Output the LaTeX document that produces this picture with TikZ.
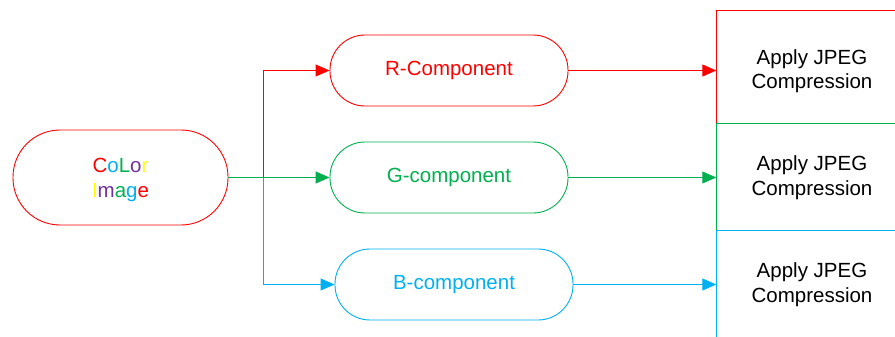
\documentclass[tikz,border=0pt]{standalone}
\usepackage{fontspec}
\setmainfont{Liberation Sans}
\usetikzlibrary{arrows.meta}
\definecolor{cR}{HTML}{FF0000}
\definecolor{cG}{HTML}{00B050}
\definecolor{cB}{HTML}{00B0F0}
\definecolor{cP}{HTML}{7030A0}
\definecolor{cY}{HTML}{FFFF00}
\tikzset{
  pill/.style={draw, line width=0.9pt, minimum width=238pt, minimum height=71pt, rounded corners=35pt, font=\fontsize{20.5}{24}\selectfont, inner sep=0pt},
  jpeg/.style={minimum width=191pt, inner sep=0pt, font=\fontsize{20.5}{24.5}\selectfont, align=center, text=black},
  boxedge/.style={line width=1.2pt},
  conn/.style={line width=0.9pt, -{Triangle[length=14pt,width=12pt]}},
}
\begin{document}
\begin{tikzpicture}[x=1pt,y=-1pt]
\useasboundingbox (0,0) rectangle (895,337);
\clip (0,0) rectangle (895,337);
% source
\node[pill, draw=cR, minimum width=215pt, minimum height=95pt, rounded corners=47pt] (img) at (120.5,177.5) {};
\node[align=center, inner sep=0pt, font=\fontsize{20.5}{25}\selectfont] (imgtxt) at (120.5,180)
  {\textcolor{cR}{C}\textcolor{cB}{o}\textcolor{cG}{L}\textcolor{cP}{o}\textcolor{cY}{r}\\
   \textcolor{cY}{I}\textcolor{cP}{m}\textcolor{cG}{a}\textcolor{cB}{g}\textcolor{cR}{e}};
% components
\node[pill, draw=cR, text=cR] (r) at (449,70.5) {R-Component};
\node[pill, draw=cG, text=cG] (g) at (449,177.5) {G-component};
\node[pill, draw=cB, text=cB] (b) at (454,284.5) {B-component};
% jpeg boxes
\node[jpeg, minimum height=120pt] (jr) at (812,71) {Apply JPEG\\Compression};
\node[jpeg, minimum height=107pt] (jg) at (812,177.5) {Apply JPEG\\Compression};
\node[jpeg, minimum height=107pt] (jb) at (812,284.5) {Apply JPEG\\Compression};
\draw[boxedge, draw=cR] (jg.north west) -- (jr.north west) -- (jr.north east);
\draw[boxedge, draw=cG] (jb.north west) -- (jg.north west) -- (jg.north east);
\draw[boxedge, draw=cB] (jb.south west) -- (jb.north west) -- (jb.north east);
% split
\coordinate (sp) at (263,177.5);
\draw[conn, cR] (sp) |- (r.west);
\draw[conn, cB] (sp) |- (b.west);
\draw[conn, cG] (img.east) -- (g.west);
% to jpeg
\draw[conn, cR] (r.east) -- (r.east -| jr.west);
\draw[conn, cG] (g.east) -- (g.east -| jg.west);
\draw[conn, cB] (b.east) -- (b.east -| jb.west);
\end{tikzpicture}
\end{document}
